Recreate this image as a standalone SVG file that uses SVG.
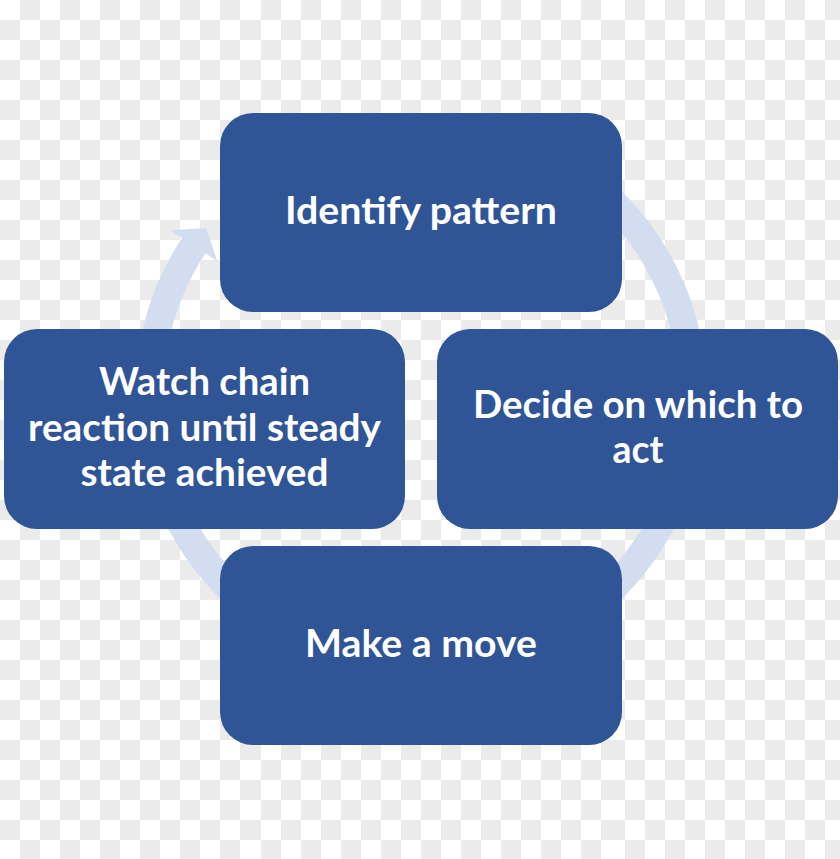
<svg xmlns="http://www.w3.org/2000/svg" width="840" height="859" viewBox="0 0 840 859">
  <defs>
    <pattern id="chk0" x="0" y="0" width="40" height="40" patternUnits="userSpaceOnUse">
      <rect width="40" height="40" fill="#ffffff"/>
      <rect x="20" y="0" width="20" height="20" fill="#ebebeb"/>
      <rect x="0" y="20" width="20" height="20" fill="#ebebeb"/>
    </pattern>
    <pattern id="chk1" href="#chk0" x="1"/>
    <pattern id="chk5" href="#chk0" x="5"/>
    <style>
      .node rect { fill: #2f5597; }
      .node text { fill: #ffffff; font-family: Lato, "Open Sans", "Liberation Sans", sans-serif; font-weight: bold; font-size: 38px; text-anchor: middle; }
      .ring { fill: #d2deef; }
    </style>
  </defs>

  <g id="background">
    <rect x="0" y="0" width="241" height="859" fill="url(#chk0)"/>
    <rect x="241" y="0" width="364" height="859" fill="url(#chk1)"/>
    <rect x="605" y="0" width="235" height="859" fill="url(#chk5)"/>
  </g>

  <g id="connectors">
    <path class="ring" d="M 612.4 182.5 A 286 286 0 1 1 182.0 238.0 L 170.3 230.3 L 206.4 227.9 L 217.1 261.0 L 205.4 253.4 A 258 258 0 1 0 593.6 203.3 Z"/>
  </g>

  <g id="node-identify" class="node">
    <rect x="220" y="113" width="402" height="199" rx="33" ry="33"/>
    <text x="421" y="224" textLength="272" lengthAdjust="spacingAndGlyphs">Identify pattern</text>
  </g>

  <g id="node-decide" class="node">
    <rect x="437" y="329" width="401" height="200" rx="33" ry="33"/>
    <text x="638" y="418" textLength="330" lengthAdjust="spacingAndGlyphs">Decide on which to</text>
    <text x="638" y="463" textLength="51" lengthAdjust="spacingAndGlyphs">act</text>
  </g>

  <g id="node-move" class="node">
    <rect x="220" y="546" width="402" height="199" rx="33" ry="33"/>
    <text x="421" y="657" textLength="232" lengthAdjust="spacingAndGlyphs">Make a move</text>
  </g>

  <g id="node-watch" class="node">
    <rect x="4" y="329" width="401" height="200" rx="33" ry="33"/>
    <text x="204.5" y="395" textLength="211" lengthAdjust="spacingAndGlyphs">Watch chain</text>
    <text x="204.5" y="441" textLength="353" lengthAdjust="spacingAndGlyphs">reaction until steady</text>
    <text x="204.5" y="486" textLength="248" lengthAdjust="spacingAndGlyphs">state achieved</text>
  </g>
</svg>
